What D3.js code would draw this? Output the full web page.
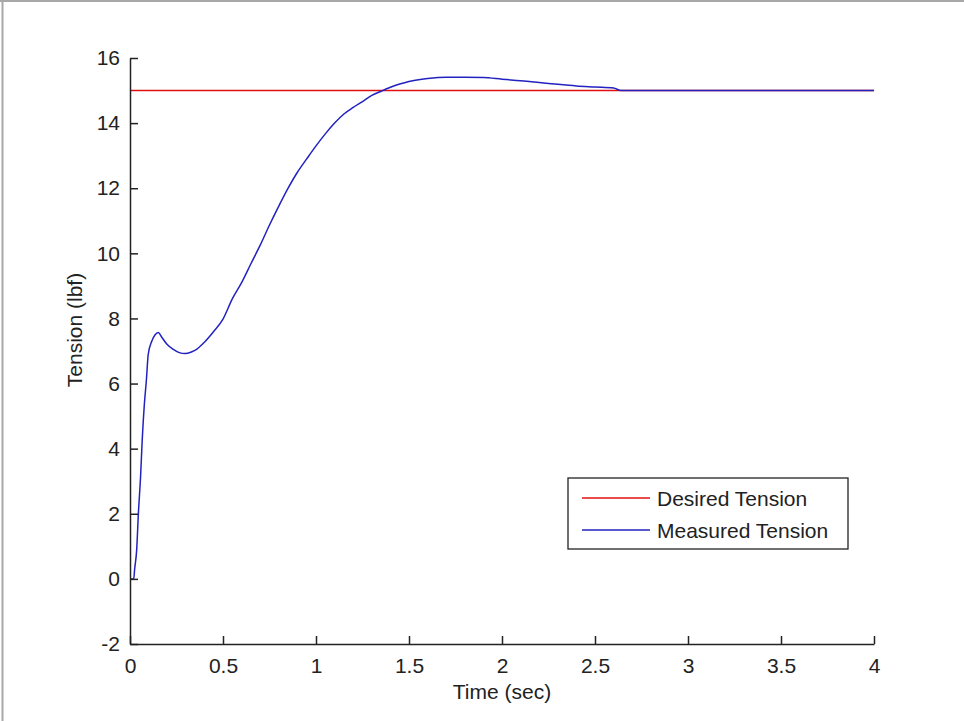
<!DOCTYPE html>
<html>
<head>
<meta charset="utf-8">
<script src="https://cdn.jsdelivr.net/npm/d3@7"></script>
<style>
  body { margin: 0; background: #fff; }
  text { font-family: "Liberation Sans", Arial, sans-serif; fill: #222; }
</style>
</head>
<body>
<svg width="964" height="721"></svg>
<script>
const time = [0, 0.02, 0.025, 0.036, 0.045, 0.057, 0.066, 0.077, 0.088, 0.098, 0.117, 0.135, 0.152, 0.17, 0.2,
  0.233, 0.265, 0.296, 0.33, 0.36, 0.4, 0.45, 0.5, 0.55, 0.6, 0.65, 0.7, 0.75, 0.8, 0.85, 0.9, 0.95, 1.0,
  1.05, 1.1, 1.15, 1.2, 1.25, 1.3, 1.35, 1.4, 1.45, 1.5, 1.6, 1.7, 1.8, 1.9, 2.0, 2.1, 2.2, 2.3, 2.4,
  2.5, 2.6, 2.64, 3.0, 3.5, 4.0];
const tension = [0, 0, 0.3, 0.9, 2.0, 3.16, 4.3, 5.35, 6.1, 6.9, 7.3, 7.5, 7.57, 7.43, 7.2,
  7.05, 6.95, 6.92, 6.97, 7.06, 7.27, 7.6, 7.98, 8.6, 9.1, 9.68, 10.25, 10.87, 11.45, 12.0, 12.49, 12.9, 13.3,
  13.67, 14.0, 14.28, 14.48, 14.66, 14.85, 14.98, 15.1, 15.2, 15.28, 15.37, 15.41, 15.41, 15.4, 15.35, 15.3, 15.25, 15.19, 15.14,
  15.11, 15.08, 15.0, 15.0, 15.0, 15.0];
const desiredTime = [0, 4];
const desired = [15, 15];

const xTicks = [0, 0.5, 1, 1.5, 2, 2.5, 3, 3.5, 4];
const yTicks = [-2, 0, 2, 4, 6, 8, 10, 12, 14, 16];
const legendLabels = ["Desired Tension", "Measured Tension"];
const colors = ["#e01010", "#2222c0"];

const svg = d3.select("svg");

// figure frame edges
svg.append("line").attr("x1", 0).attr("x2", 964).attr("y1", 1).attr("y2", 1)
  .attr("stroke", "#a8a8a8").attr("stroke-width", 2);
svg.append("line").attr("x1", 2.5).attr("x2", 2.5).attr("y1", 0).attr("y2", 721)
  .attr("stroke", "#a8a8a8").attr("stroke-width", 2);

const x = d3.scaleLinear().domain([0, 4]).range([130, 874]);
const y = d3.scaleLinear().domain([-2, 16]).range([644, 58]);

const line = d3.line().x(d => x(d[0])).y(d => y(d[1]));

svg.append("path")
  .datum(d3.zip(desiredTime, desired))
  .attr("d", line)
  .attr("fill", "none")
  .attr("stroke", colors[0])
  .attr("stroke-width", 1.5);

svg.append("path")
  .datum(d3.zip(time, tension))
  .attr("d", line.curve(d3.curveMonotoneX))
  .attr("fill", "none")
  .attr("stroke", colors[1])
  .attr("stroke-width", 1.5);

// MATLAB-style axes: ticks point inward, plain hyphen for negatives
const xAxis = d3.axisBottom(x).tickValues(xTicks).tickFormat(d => String(d)).tickSizeInner(-8).tickSizeOuter(0).tickPadding(14);
const yAxis = d3.axisLeft(y).tickValues(yTicks).tickFormat(d => String(d)).tickSizeInner(-8).tickSizeOuter(0).tickPadding(10);

const gx = svg.append("g").attr("transform", "translate(0,644)").call(xAxis);
const gy = svg.append("g").attr("transform", "translate(130,0)").call(yAxis);

[gx, gy].forEach(g => {
  g.selectAll("path, line").attr("stroke", "#222").attr("stroke-width", 1.5);
  g.selectAll("text").style("font-size", "21px").attr("fill", "#222");
});
gx.selectAll("text").attr("dy", "0.71em");

svg.append("text")
  .attr("x", 502).attr("y", 699)
  .attr("text-anchor", "middle")
  .style("font-size", "21px")
  .text("Time (sec)");

svg.append("text")
  .attr("transform", "translate(82,330) rotate(-90)")
  .attr("text-anchor", "middle")
  .style("font-size", "21px")
  .text("Tension (lbf)");

// legend
const legend = svg.append("g");
legend.append("rect")
  .attr("x", 568).attr("y", 478).attr("width", 280).attr("height", 71)
  .attr("fill", "#fff").attr("stroke", "#222").attr("stroke-width", 1.3);

const items = legend.selectAll("g.item")
  .data(legendLabels)
  .enter()
  .append("g")
  .attr("class", "item")
  .attr("transform", (d, i) => "translate(0," + (498 + i * 32) + ")");

items.append("line")
  .attr("x1", 582).attr("x2", 650)
  .attr("stroke", (d, i) => colors[i])
  .attr("stroke-width", 1.5);

items.append("text")
  .attr("x", 657).attr("dy", "0.36em")
  .style("font-size", "21px")
  .text(d => d);
</script>
</body>
</html>
